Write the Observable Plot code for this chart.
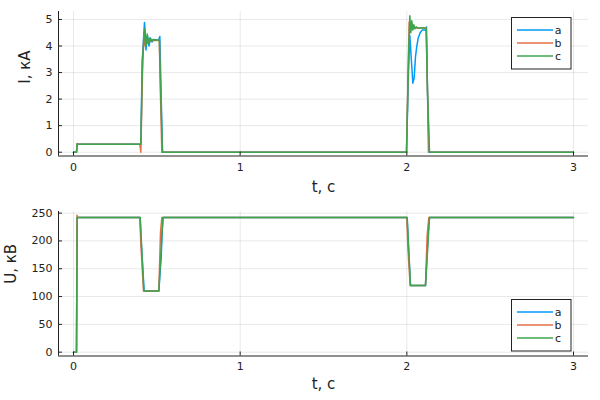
<!DOCTYPE html>
<html><head><meta charset="utf-8">
<script src="https://cdn.jsdelivr.net/npm/d3@7"></script>
<script src="https://cdn.jsdelivr.net/npm/@observablehq/plot@0.6"></script>
<style>body{margin:0;background:#fff;} svg{display:block;} #chart{width:600px;}</style>
</head><body><div id="chart"></div>
<script>
// ---- data ----
const seriesNames = ["a", "b", "c"];
const seriesColors = ["#009AFA", "#E36F47", "#3EA44E"];
const xTicks = [0, 1, 2, 3];
const iTicks = [0, 1, 2, 3, 4, 5];
const uTicks = [0, 50, 100, 150, 200, 250];
const xLabel = "t, с";
const iLabel = "I, кА";
const uLabel = "U, кВ";

// current I (kA)
const iA_t = [0, 0.018, 0.022, 0.028, 0.404, 0.412, 0.426, 0.435, 0.444, 0.453, 0.462, 0.471, 0.48, 0.51, 0.518, 0.526, 0.534, 1.998, 2.010, 2.018, 2.028, 2.036, 2.044, 2.052, 2.060, 2.068, 2.080, 2.092, 2.112, 2.118, 2.124, 2.130, 3.0];
const iA_v = [0, 0, 0.32, 0.3, 0.3, 3.4, 4.89, 3.85, 4.4, 4.0, 4.3, 4.15, 4.25, 4.22, 4.36, 2.1, 0, 0, 3.0, 4.4, 3.4, 2.6, 2.8, 3.6, 4.0, 4.3, 4.5, 4.6, 4.6, 4.72, 2.3, 0, 0];
const iB_t = [0, 0.018, 0.022, 0.028, 0.398, 0.404, 0.414, 0.422, 0.430, 0.438, 0.446, 0.454, 0.462, 0.515, 0.522, 0.530, 1.998, 2.006, 2.014, 2.020, 2.026, 2.032, 2.040, 2.050, 2.116, 2.124, 2.134, 3.0];
const iB_v = [0, 0, 0.33, 0.3, 0.3, 0.0, 3.0, 4.4, 4.0, 4.3, 4.1, 4.25, 4.2, 4.22, 2.1, 0, 0, 2.5, 4.9, 4.55, 4.85, 4.62, 4.75, 4.68, 4.68, 2.3, 0, 0];
const iC_t = [0, 0.018, 0.022, 0.028, 0.404, 0.414, 0.428, 0.436, 0.442, 0.450, 0.458, 0.466, 0.474, 0.515, 0.524, 0.534, 1.998, 2.010, 2.018, 2.024, 2.030, 2.036, 2.042, 2.048, 2.056, 2.064, 2.116, 2.124, 2.136, 3.0];
const iC_v = [0, 0, 0.3, 0.3, 0.3, 3.5, 4.65, 4.0, 4.45, 4.1, 4.3, 4.18, 4.24, 4.22, 2.1, 0, 0, 3.5, 5.14, 4.5, 4.95, 4.6, 4.8, 4.65, 4.72, 4.68, 4.68, 2.3, 0, 0];

// voltage U (kV)
const uA_t = [0, 0.018, 0.022, 0.400, 0.406, 0.424, 0.512, 0.526, 0.532, 0.538, 2.002, 2.008, 2.022, 2.112, 2.128, 2.136, 3.0];
const uA_v = [0, 0, 242, 242, 200, 110, 110, 170, 215, 242, 242, 200, 120, 120, 215, 242, 242];
const uB_t = [0, 0.018, 0.021, 0.026, 0.398, 0.404, 0.420, 0.512, 0.522, 0.530, 2.000, 2.006, 2.020, 2.112, 2.122, 2.132, 3.0];
const uB_v = [0, 0, 246, 242, 242, 195, 110, 110, 215, 242, 242, 190, 120, 120, 210, 242, 242];
const uC_t = [0, 0.018, 0.022, 0.400, 0.422, 0.512, 0.536, 2.002, 2.022, 2.112, 2.136, 3.0];
const uC_v = [0, 0, 242, 242, 110, 110, 242, 242, 120, 120, 242, 242];

// ---- build ----
function rows(list) {
  const out = [];
  list.forEach(([name, ts, vs]) => ts.forEach((t, k) => out.push({t, v: vs[k], s: name})));
  return out;
}
const iRows = rows([["a", iA_t, iA_v], ["b", iB_t, iB_v], ["c", iC_t, iC_v]]);
const uRows = rows([["a", uA_t, uA_v], ["b", uB_t, uB_v], ["c", uC_t, uC_v]]);

const W = 600, H = 200, ML = 58, MR = 12, MT = 11, MB = 44.5;
const FW = W - ML - MR, FH = H - MT - MB;
const FONT = "DejaVu Sans, sans-serif";

function panel(data, yTicks, yDomain, yLab, yLabDx, xTickDy, xLabDy, legendTop) {
  const xDomain = [-0.09, 3.09];
  const svg = Plot.plot({
    width: W, height: H,
    marginLeft: ML, marginRight: MR, marginTop: MT, marginBottom: MB,
    style: {fontFamily: FONT, fontSize: "11px", background: "#fff", color: "#222"},
    x: {domain: xDomain, axis: null},
    y: {domain: yDomain, axis: null},
    color: {domain: seriesNames, range: seriesColors},
    marks: [
      Plot.ruleX(xTicks, {x: d => d, stroke: "#000", strokeOpacity: 0.09, strokeWidth: 1}),
      Plot.ruleY(yTicks, {y: d => d, stroke: "#000", strokeOpacity: 0.09, strokeWidth: 1}),
      Plot.line(data, {x: "t", y: "v", z: "s", stroke: "s", strokeWidth: 1.5, curve: "linear"}),
      Plot.ruleX([xDomain[0]], {stroke: "#222", strokeWidth: 1}),
      Plot.ruleY([yDomain[0]], {stroke: "#222", strokeWidth: 1}),
      Plot.ruleX(xTicks, {x: d => d, insetTop: FH - 4, stroke: "#222", strokeWidth: 1}),
      Plot.ruleY(yTicks, {y: d => d, insetRight: FW - 4, stroke: "#222", strokeWidth: 1}),
      Plot.text(xTicks, {x: d => d, text: d => String(d), frameAnchor: "bottom", dy: xTickDy, lineAnchor: "middle", fill: "#222", fontSize: 11}),
      Plot.text(yTicks, {y: d => d, text: d => String(d), frameAnchor: "left", dx: -6, textAnchor: "end", lineAnchor: "middle", fill: "#222", fontSize: 11}),
      Plot.text([xLabel], {text: d => d, frameAnchor: "bottom", dy: xLabDy, lineAnchor: "middle", fill: "#222", fontSize: 15}),
      Plot.text([yLab], {text: d => d, frameAnchor: "left", dx: yLabDx, rotate: -90, lineAnchor: "middle", fill: "#222", fontSize: 15})
    ]
  });
  const g = d3.select(svg).append("g").attr("font-family", FONT).attr("font-size", 11);
  g.append("rect").attr("x", 511.5).attr("y", legendTop + 0.5).attr("width", 59.5).attr("height", 51.5)
    .attr("fill", "#fff").attr("stroke", "#222").attr("stroke-width", 1);
  seriesNames.forEach((n, k) => {
    const yy = legendTop + 13 + 13 * k;
    g.append("line").attr("x1", 517).attr("x2", 553).attr("y1", yy).attr("y2", yy)
      .attr("stroke", seriesColors[k]).attr("stroke-width", 1.5);
    g.append("text").attr("x", 558).attr("y", yy).attr("dy", "0.35em").attr("fill", "#222").text(n);
  });
  return svg;
}

const chart = document.getElementById("chart");
chart.appendChild(panel(iRows, iTicks, [-0.143, 5.30], iLabel, -33, 11.5, 31.5, 17));
chart.appendChild(panel(uRows, uTicks, [-6.9, 252.9], uLabel, -47, 10.5, 28.5, 99));
</script></body></html>
